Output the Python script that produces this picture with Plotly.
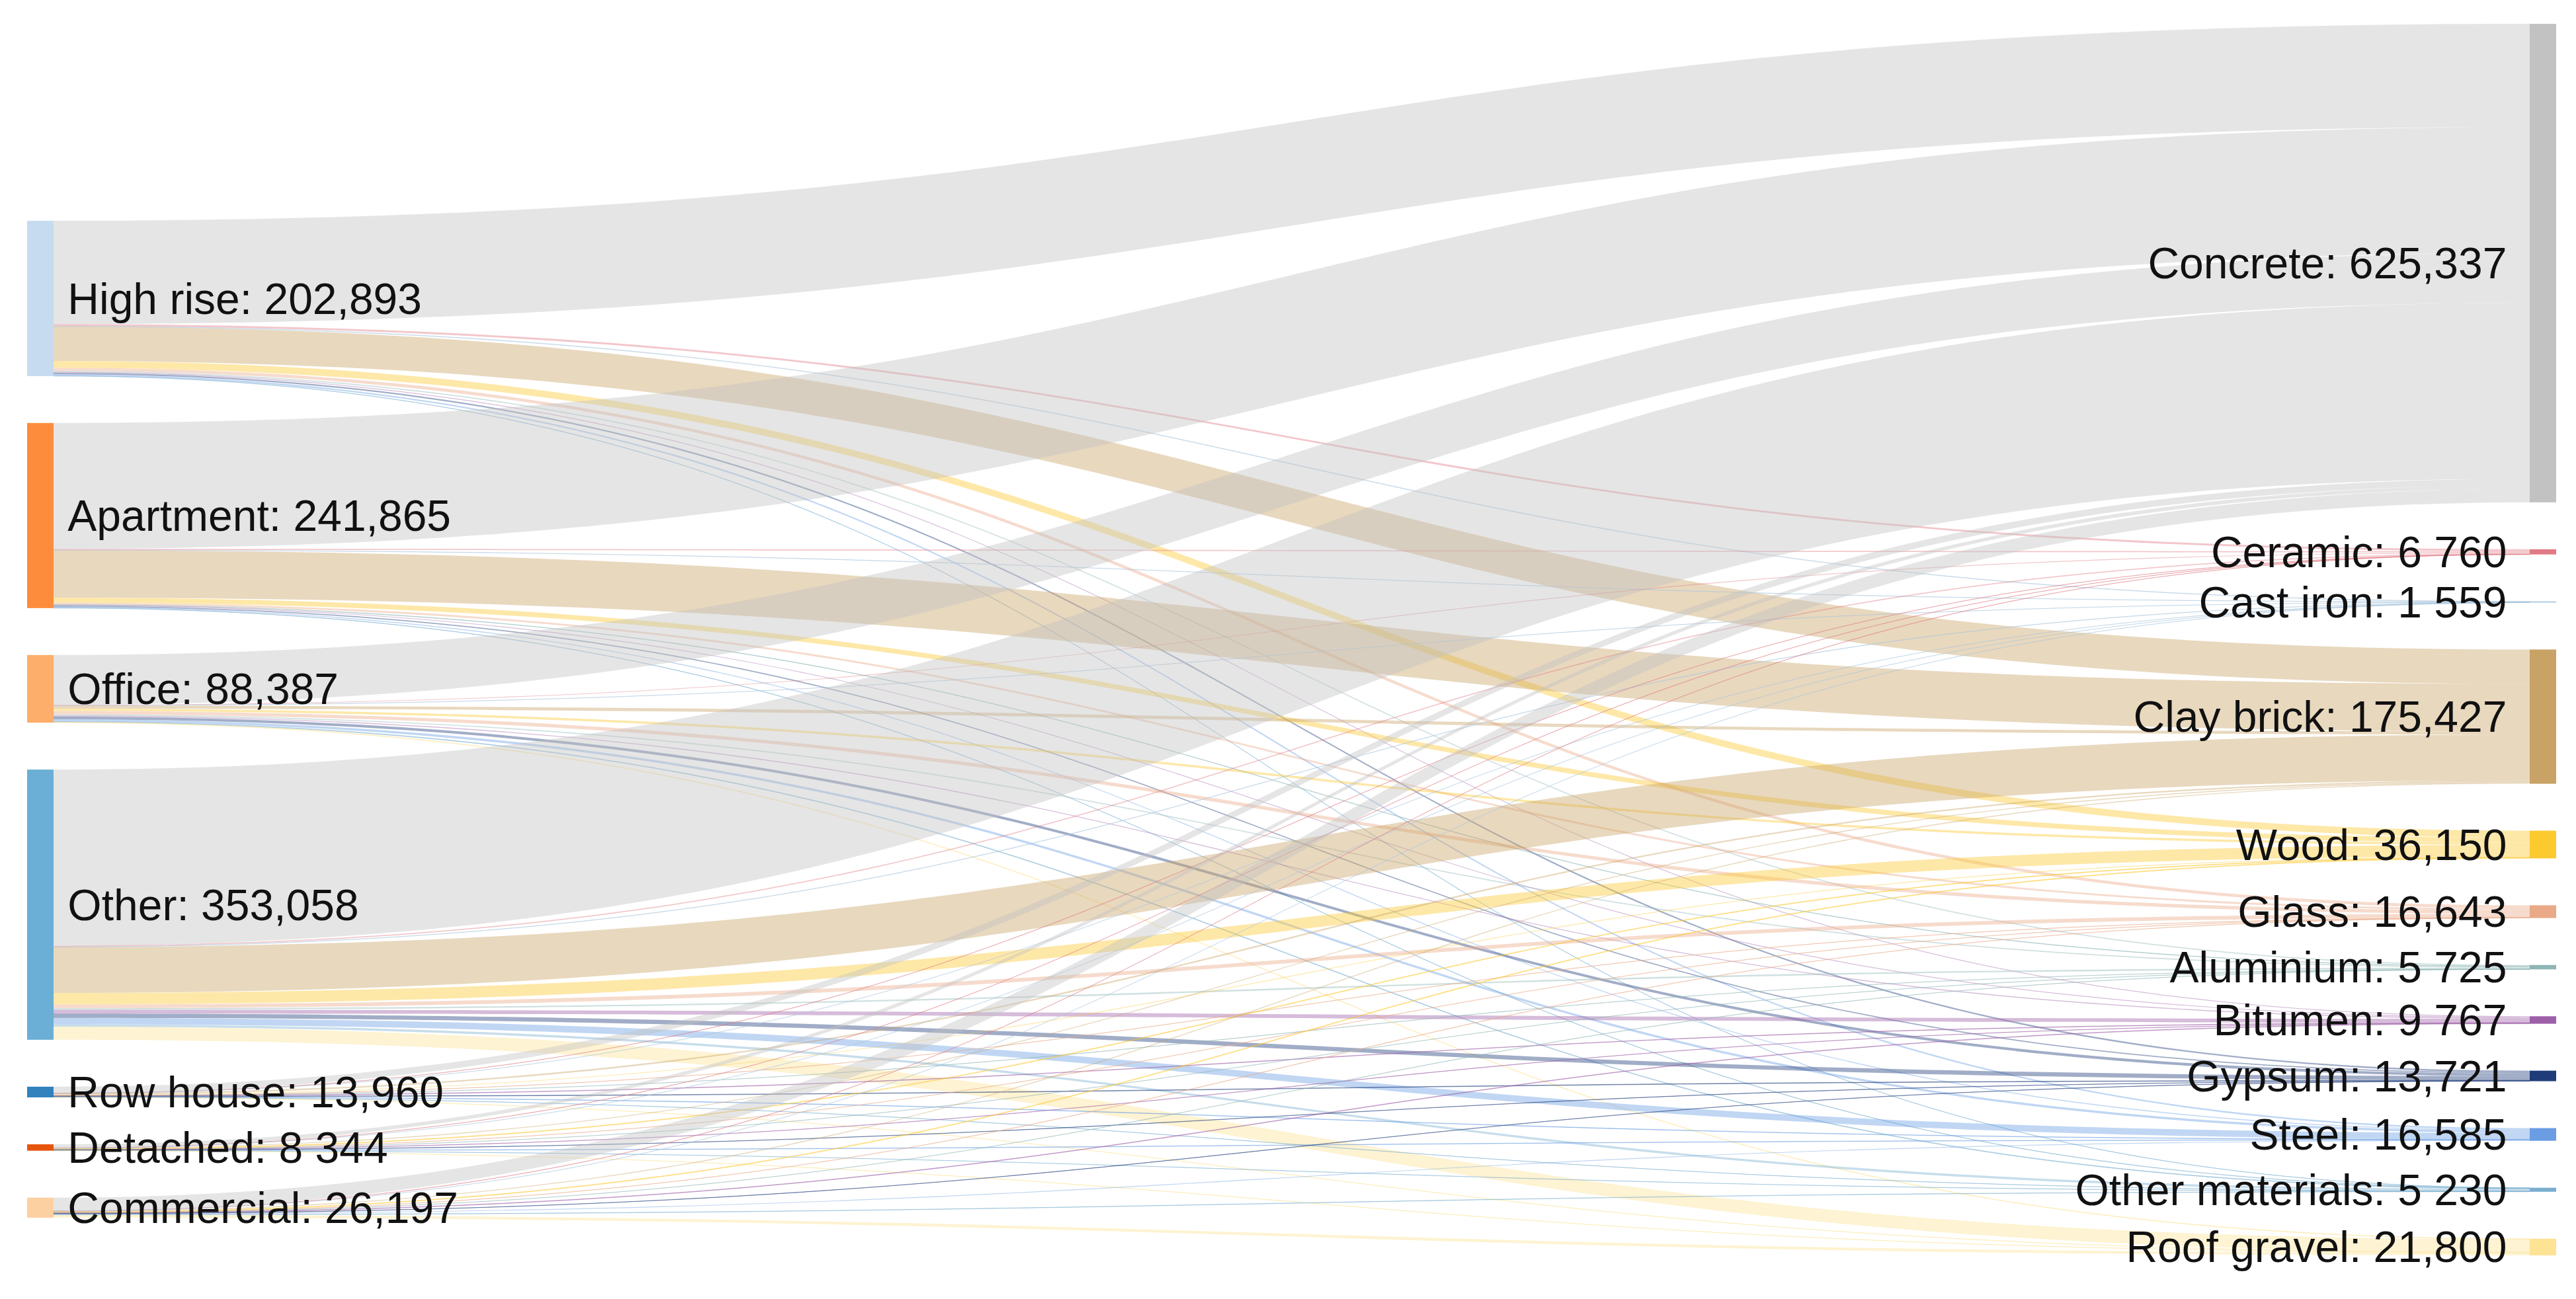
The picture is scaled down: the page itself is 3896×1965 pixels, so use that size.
import plotly.graph_objects as go

# ---------------- data ----------------
building_labels = ["High rise: 202,893", "Apartment: 241,865", "Office: 88,387",
                   "Other: 353,058", "Row house: 13,960", "Detached: 8 344",
                   "Commercial: 26,197"]
material_labels = ["Concrete: 625,337", "Ceramic: 6 760", "Cast iron: 1 559",
                   "Clay brick: 175,427", "Wood: 36,150", "Glass: 16,643",
                   "Aluminium: 5 725", "Bitumen: 9 767", "Gypsum: 13,721",
                   "Steel: 16,585", "Other materials: 5 230", "Roof gravel: 21,800"]

# flows from each building type, in the material order above
high_rise  = [134993, 2500, 600, 45000, 9000, 4000, 1500, 1000, 2000, 2000, 300, 0]
apartment  = [164500, 1500, 300, 62000, 6500, 2500, 500, 1000, 1500, 1200, 365, 0]
office     = [65000, 1000, 200, 4000, 3000, 4500, 1500, 1200, 3500, 3000, 800, 687]
other      = [230000, 1500, 400, 60000, 15000, 5000, 2000, 5000, 5500, 8500, 3000, 17158]
row_house  = [8500, 100, 20, 2000, 1000, 200, 80, 600, 600, 500, 200, 160]
detached   = [4820, 60, 19, 1200, 800, 150, 45, 300, 300, 400, 150, 100]
commercial = [17524, 100, 20, 1227, 850, 293, 100, 667, 321, 985, 415, 3695]

building_colors = ["#c6dbef", "#fd8d3c", "#fdae6b", "#6baed6", "#3182bd", "#e6550d", "#fdd0a2"]
material_colors = ["#c2c2c2", "#e07a84", "#a9c6de", "#c9a265", "#fcc92f", "#eaa987",
                   "#8fb5b5", "#9d5fa8", "#1f3c7a", "#6a9de3", "#7aaed0", "#fde394"]

flows = [high_rise, apartment, office, other, row_house, detached, commercial]

# ---------------- layout params ----------------
W, H = 3896, 1965
margin = dict(l=33, r=38, t=28, b=74)
pw = W - margin["l"] - margin["r"]
ph = H - margin["t"] - margin["b"]
pad = 71
thick = 40
left_offset = 298  # vertical offset of the first building node (px)

nb = len(building_labels)
nm = len(material_labels)
b_tot = [sum(r) for r in flows]
m_tot = [sum(r[j] for r in flows) for j in range(nm)]
ky = (ph - (nm - 1) * pad) / sum(m_tot)

xs, ys = [], []
y = left_offset
for v in b_tot:
    xs.append(thick / 2 / pw)
    ys.append((y + v * ky / 2) / ph)
    y += v * ky + pad
y = 0
for v in m_tot:
    xs.append(1 - thick / 2 / pw)
    ys.append((y + v * ky / 2) / ph)
    y += v * ky + pad


def rgba(hx, a):
    hx = hx.lstrip("#")
    r, g, b = int(hx[0:2], 16), int(hx[2:4], 16), int(hx[4:6], 16)
    return f"rgba({r},{g},{b},{a})"


src, tgt, val, col = [], [], [], []
for i, row in enumerate(flows):
    for j, v in enumerate(row):
        if v > 0:
            src.append(i)
            tgt.append(nb + j)
            val.append(v)
            col.append(rgba(material_colors[j], 0.42))

# a little extra gap between node bars and their labels
shown_labels = ["\u00a0" + s for s in building_labels] + \
               [s + "\u00a0\u2009" for s in material_labels]

fig = go.Figure(go.Sankey(
    arrangement="fixed",
    node=dict(
        label=shown_labels,
        color=building_colors + material_colors,
        x=xs, y=ys,
        pad=pad, thickness=thick,
        line=dict(width=0),
    ),
    link=dict(source=src, target=tgt, value=val, color=col),
    textfont=dict(family="Liberation Sans, Arial, sans-serif", size=66, color="#111111",
                  shadow="none"),
))
fig.update_layout(width=W, height=H, margin=margin,
                  paper_bgcolor="white", plot_bgcolor="white")
fig.write_html("out.html")
